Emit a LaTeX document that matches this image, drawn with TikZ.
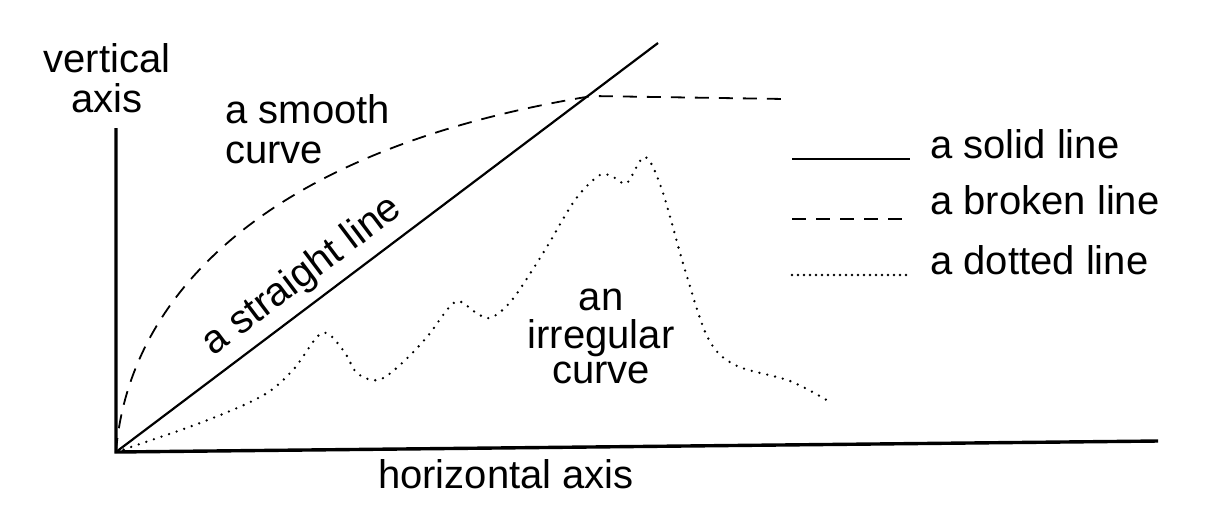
\documentclass[tikz,border=0pt]{standalone}
\usepackage{fontspec}
\setmainfont{Liberation Sans}
\begin{document}
\begin{tikzpicture}[x=0.5pt,y=-0.5pt,
  lbl/.style={font=\fontsize{20}{20}\selectfont,inner sep=0pt},
  axisline/.style={line width=1.7pt},
  solidline/.style={line width=1.1pt},
  brokenline/.style={line width=0.9pt,dash pattern=on 7pt off 5pt},
  dotline/.style={line width=1.3pt,line cap=round,dash pattern=on 0pt off 4pt}]
  \useasboundingbox (0,0) rectangle (1214,516);
  \coordinate (O) at (116,452);
  \coordinate (ytop) at (116,128);
  \coordinate (xend) at (1158,441);
  \coordinate (stop) at (658,43);
  \coordinate (bend) at (592,96);
  \coordinate (bstop) at (785,99);
  \draw[axisline] (ytop) -- (O) -- (xend);
  \draw[solidline] (O) -- node[lbl,sloped,above=4pt,pos=0.375] (straight) {a straight line} (stop);
  \draw[brokenline] (O) .. controls (128,300) and (260,150) .. (bend) -- (bstop);
  \draw[dotline] plot[smooth,tension=0.55] coordinates {(O) (200,423) (262,396) (293,370)
    (322,333) (343,350) (357,373) (378,380) (400,365) (427,337) (455,302) (475,312)
    (490,318) (512,300) (545,250) (575,200) (600,175) (615,178) (627,183) (645,157)
    (662,190) (685,270) (708,338) (735,365) (790,381) (830,402)};
  \node[lbl,align=center,anchor=base] (vlabel) at (107,112) {vertical\\axis};
  \node[lbl,align=left,anchor=base west] (smooth) at (225,163) {a smooth\\curve};
  \node[lbl,align=center,anchor=base] (irreg) at (601,383) {an\\[-1pt]irregular\\[-2.5pt]curve};
  \node[lbl,anchor=base] (hlabel) at (506,488) {horizontal axis};
  \coordinate (sol-a) at (792,159);
  \coordinate (sol-b) at (910,159);
  \coordinate (brk-a) at (792,219);
  \coordinate (brk-b) at (910,219);
  \coordinate (dot-a) at (792,275);
  \coordinate (dot-b) at (910,275);
  \draw[solidline] (sol-a) -- (sol-b);
  \draw[brokenline] (brk-a) -- (brk-b);
  \draw[dotline,dash pattern=on 0pt off 3pt] (dot-a) -- (dot-b);
  \node[lbl,anchor=base west] (solid) at (930,158) {a solid line};
  \node[lbl,anchor=base west] (broken) at (930,214) {a broken line};
  \node[lbl,anchor=base west] (dotted) at (930,274) {a dotted line};
\end{tikzpicture}
\end{document}
